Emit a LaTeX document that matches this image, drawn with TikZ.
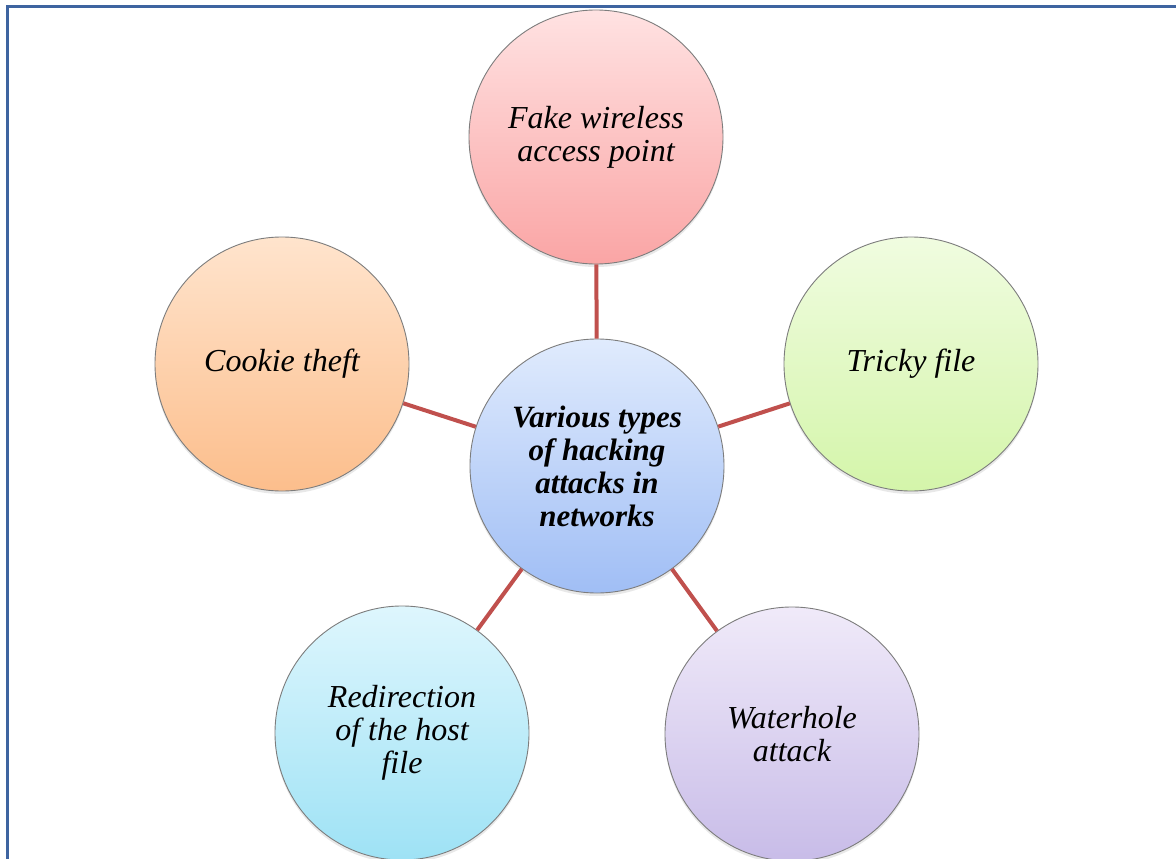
\documentclass[tikz,border=0pt]{standalone}
\usepackage{fontspec}
\setmainfont{Liberation Serif}
\usetikzlibrary{shadows}
\definecolor{frameblue}{RGB}{62,100,160}
\definecolor{linkred}{RGB}{192,80,77}
\definecolor{ringgray}{RGB}{125,125,125}
\begin{document}
\begin{tikzpicture}[x=1pt,y=-1pt,
  bubble/.style={circle, minimum size=254pt, inner sep=0pt, draw=ringgray, line width=0.9pt,
    align=center, font=\fontsize{32}{33}\selectfont\itshape,
    drop shadow={opacity=0.18, shadow xshift=0pt, shadow yshift=-3pt}},
  link/.style={draw=linkred, line width=4pt}]
\useasboundingbox (0,0) rectangle (1176,859);
\fill[white] (0,0) rectangle (1176,859);
\draw[frameblue, line width=3pt] (7,859) -- (7,7) -- (1176,7);

\node[bubble, top color={rgb,255:red,255;green,226;blue,226}, bottom color={rgb,255:red,250;green,165;blue,165}] (fake) at (596,137) {Fake wireless\\access point};
\node[bubble, top color={rgb,255:red,255;green,228;blue,205}, bottom color={rgb,255:red,252;green,190;blue,140}] (cookie) at (282,364) {Cookie theft};
\node[bubble, top color={rgb,255:red,240;green,252;blue,224}, bottom color={rgb,255:red,212;green,245;blue,170}] (tricky) at (911,364) {Tricky file};
\node[bubble, top color={rgb,255:red,222;green,246;blue,253}, bottom color={rgb,255:red,158;green,226;blue,245}] (redir) at (402,733) {Redirection\\of the host\\file};
\node[bubble, top color={rgb,255:red,240;green,234;blue,249}, bottom color={rgb,255:red,200;green,188;blue,232}] (water) at (792,734) {Waterhole\\attack};
\node[bubble, font=\fontsize{31}{33}\selectfont\bfseries\itshape, top color={rgb,255:red,224;green,235;blue,253}, bottom color={rgb,255:red,160;green,190;blue,245}] (hub) at (597,466) {Various types\\of hacking\\attacks in\\networks};

\draw[link] (hub) -- (fake);
\draw[link] (hub) -- (cookie);
\draw[link] (hub) -- (tricky);
\draw[link] (hub) -- (redir);
\draw[link] (hub) -- (water);
\end{tikzpicture}
\end{document}
